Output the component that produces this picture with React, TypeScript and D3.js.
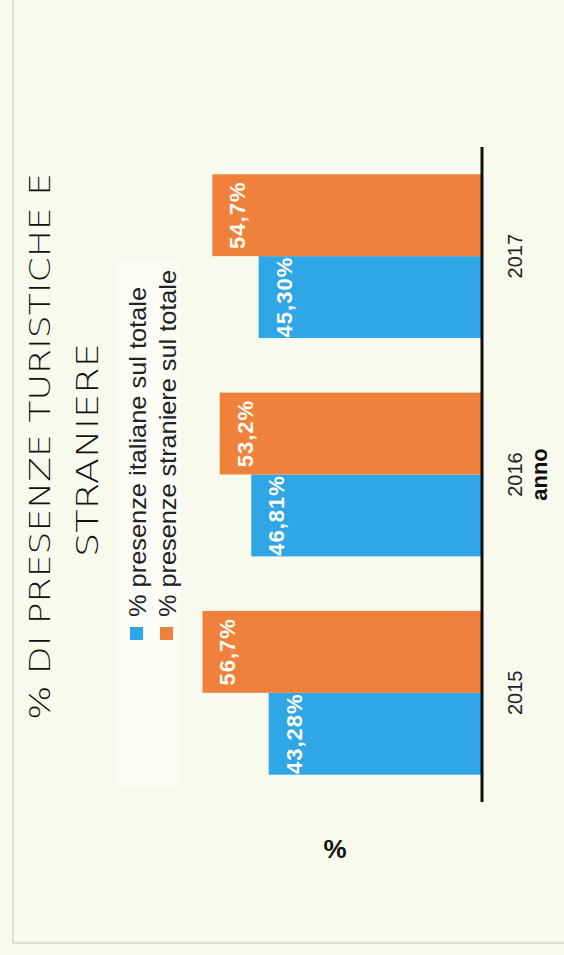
import React from "react";
import * as d3 from "d3";

const years = ["2015", "2016", "2017"];
const seriesKeys = ["italiane", "straniere"];
const seriesNames = ["% presenze italiane sul totale", "% presenze straniere sul totale"];
const italiane = [43.28, 46.81, 45.3];
const straniere = [56.7, 53.2, 54.7];
const italianeLabels = ["43,28%", "46,81%", "45,30%"];
const straniereLabels = ["56,7%", "53,2%", "54,7%"];
const titleLines = ["% DI PRESENZE TURISTICHE E", "STRANIERE"];
const xAxisTitle = "anno";
const yAxisTitle = "%";

const W = 564;
const H = 955;
const BASE_X = 482;
const colors: Record<string, string> = { italiane: "#2fa6e6", straniere: "#f0813d" };
const legendLengths = [330, 347];

export default function App() {
  const x = d3.scaleLinear().domain([0, 60]).range([BASE_X, BASE_X - 60 * 4.93]);
  const y = d3.scaleBand<string>().domain(years).range([802, 147]).paddingInner(0.25).paddingOuter(0.125);
  const sub = d3.scaleBand<string>().domain(seriesKeys).range([y.bandwidth(), 0]);

  const rows = years.map((yr, i) => ({
    year: yr,
    vals: [
      { key: "italiane", v: italiane[i], label: italianeLabels[i] },
      { key: "straniere", v: straniere[i], label: straniereLabels[i] },
    ],
  }));

  const titleFont = "'DejaVu Sans', 'Open Sans', sans-serif";
  const bodyFont = "'Liberation Sans', Arial, sans-serif";

  return (
    <svg width={W} height={H} style={{ position: "absolute", left: 0, top: 0 }}>
      <rect x={0} y={0} width={W} height={H} fill="#f8faee" />
      <line x1={13} y1={0} x2={13} y2={943} stroke="#d4d6cc" strokeWidth={1.5} />
      <line x1={13} y1={943} x2={W} y2={943} stroke="#d4d6cc" strokeWidth={1.5} />
      <rect x={116} y={262} width={64} height={524} fill="#ffffff" opacity={0.5} />

      {/* title */}
      <text
        transform={`translate(50, ${(173 + 720) / 2}) rotate(-90)`}
        textAnchor="middle"
        fontFamily={titleFont}
        fontWeight={200}
        fontSize={29}
        fill="#111"
        textLength={547}
        lengthAdjust="spacingAndGlyphs"
      >
        {titleLines[0]}
      </text>
      <text
        transform={`translate(98, ${(343 + 557) / 2}) rotate(-90)`}
        textAnchor="middle"
        fontFamily={titleFont}
        fontWeight={200}
        fontSize={31}
        fill="#111"
        textLength={214}
        lengthAdjust="spacingAndGlyphs"
      >
        {titleLines[1]}
      </text>

      {/* legend */}
      {seriesKeys.map((k, i) => (
        <g key={k}>
          <rect x={130 + i * 30} y={627} width={13} height={13} fill={colors[k]} />
          <text
            transform={`translate(${146 + i * 30}, 617) rotate(-90)`}
            fontFamily={bodyFont}
            fontSize={24}
            fill="#222"
            textLength={legendLengths[i]}
            lengthAdjust="spacingAndGlyphs"
          >
            {seriesNames[i]}
          </text>
        </g>
      ))}

      {/* bars */}
      {rows.map((r) => (
        <g key={r.year} transform={`translate(0, ${y(r.year)})`}>
          {r.vals.map((d) => (
            <g key={d.key}>
              <rect
                x={x(d.v)}
                y={sub(d.key)}
                width={BASE_X - x(d.v)}
                height={sub.bandwidth()}
                fill={colors[d.key]}
              />
              <text
                transform={`translate(${x(d.v) + 33}, ${(sub(d.key) as number) + sub.bandwidth() / 2}) rotate(-90)`}
                textAnchor="middle"
                fontFamily={bodyFont}
                fontWeight="bold"
                fontSize={22}
                letterSpacing={1}
                fill="#fdfcf0"
              >
                {d.label}
              </text>
            </g>
          ))}
        </g>
      ))}

      {/* axis line */}
      <line x1={BASE_X} y1={147} x2={BASE_X} y2={802} stroke="#111" strokeWidth={3} />

      {/* year labels */}
      {years.map((yr) => (
        <text
          key={yr}
          transform={`translate(522, ${(y(yr) as number) + y.bandwidth() / 2}) rotate(-90)`}
          textAnchor="middle"
          fontFamily={bodyFont}
          fontSize={20}
          fill="#222"
        >
          {yr}
        </text>
      ))}
      <text
        transform={`translate(547, ${(y("2016") as number) + y.bandwidth() / 2}) rotate(-90)`}
        textAnchor="middle"
        fontFamily={bodyFont}
        fontWeight="bold"
        fontSize={22}
        fill="#111"
      >
        {xAxisTitle}
      </text>
      <text x={335} y={858} textAnchor="middle" fontFamily={bodyFont} fontWeight="bold" fontSize={26} fill="#111">
        {yAxisTitle}
      </text>
    </svg>
  );
}
